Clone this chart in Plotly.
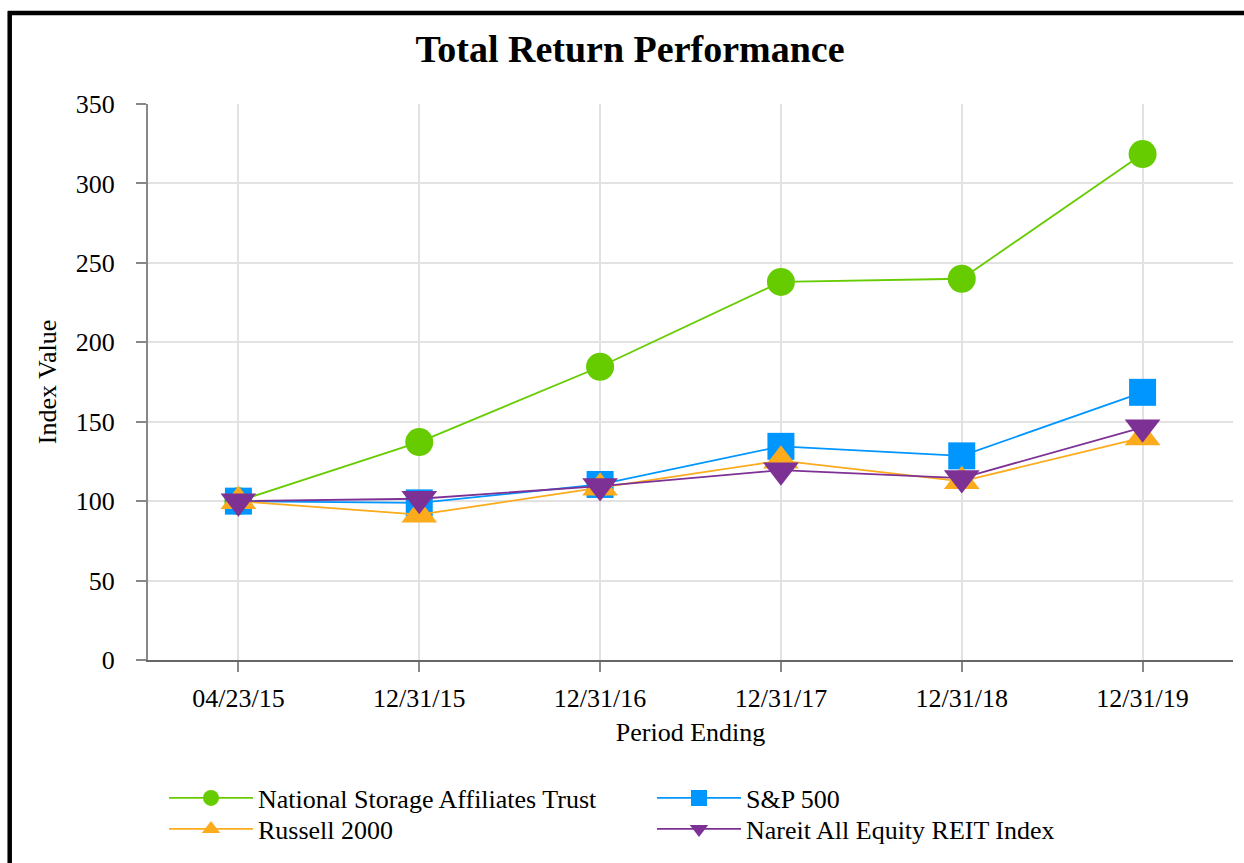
import plotly.graph_objects as go

# data
periods = ["04/23/15", "12/31/15", "12/31/16", "12/31/17", "12/31/18", "12/31/19"]
nsa = [100, 137.2, 184.6, 238.0, 240.0, 318.5]
sp500 = [100, 98.9, 110.5, 134.5, 128.5, 168.5]
russell = [100, 91.5, 108.5, 125.5, 112.5, 140.0]
nareit = [100, 101.5, 109.5, 119.5, 114.5, 146.5]

FONT = "Liberation Serif"
W, H = 1244, 863
L, R, T, B = 148, 11, 104, 203
PW, PH = W - L - R, H - T - B


def px_x(px):
    return (px - L) / PW


def px_y(py):
    return (H - B - py) / PH


series = [
    ("National Storage Affiliates Trust", nsa, "#66cc00", "circle", 28, "legend"),
    ("S&P 500", sp500, "#0096ff", "square", 27, "legend"),
    ("Russell 2000", russell, "#fbab1c", "triangle-up", 31, "legend2"),
    ("Nareit All Equity REIT Index", nareit, "#7d3195", "triangle-down", 31, "legend2"),
]

fig = go.Figure()
for name, vals, color, sym, size, leg in series:
    fig.add_trace(go.Scatter(
        x=periods, y=vals, name=name, mode="lines+markers",
        line=dict(color=color, width=1.8),
        marker=dict(symbol=sym, size=size, color=color, line=dict(width=0)),
        legend=leg,
    ))

grid = "#e2e2e2"
leg_common = dict(orientation="h", xanchor="left", yanchor="middle",
                  entrywidth=389, itemwidth=84,
                  font=dict(family=FONT, size=26), bgcolor="rgba(0,0,0,0)")
fig.update_layout(
    width=W, height=H,
    margin=dict(l=L, r=R, t=T, b=B),
    paper_bgcolor="white", plot_bgcolor="white",
    font=dict(family=FONT, size=26, color="black"),
    title=dict(text="<b>Total Return Performance</b>", x=630 / W, xref="container",
               xanchor="center", y=1 - 49 / H, yanchor="middle",
               font=dict(family=FONT, size=38, color="black")),
    xaxis=dict(
        type="category", range=[-0.5, 5.5],
        showgrid=True, gridcolor=grid, gridwidth=1.5,
        showline=True, linecolor="#666666", linewidth=2,
        ticks="outside", ticklen=10, tickcolor="#888888", tickwidth=2,
        ticklabelstandoff=4,
        title=dict(text="Period Ending", standoff=11, font=dict(family=FONT, size=26)),
    ),
    yaxis=dict(
        range=[0, 350], dtick=50,
        showgrid=True, gridcolor=grid, gridwidth=1.5, zeroline=False,
        showline=True, linecolor="#888888", linewidth=2,
        ticks="outside", ticklen=10, tickcolor="#888888", tickwidth=2,
        ticklabelstandoff=16,
        title=dict(text="Index Value", standoff=12, font=dict(family=FONT, size=26)),
    ),
    legend=dict(x=px_x(164), y=px_y(798), **leg_common),
    legend2=dict(x=px_x(164), y=px_y(829), **leg_common),
    shapes=[
        dict(type="line", xref="paper", yref="paper", x0=px_x(8), x1=px_x(1260),
             y0=px_y(13), y1=px_y(13), line=dict(color="black", width=4.5)),
        dict(type="line", xref="paper", yref="paper", x0=px_x(9.7), x1=px_x(9.7),
             y0=px_y(11), y1=px_y(880), line=dict(color="black", width=4.5)),
    ],
)

fig.write_html("out.html", config={"displayModeBar": False},
               post_script="document.body.style.margin='0px';")
